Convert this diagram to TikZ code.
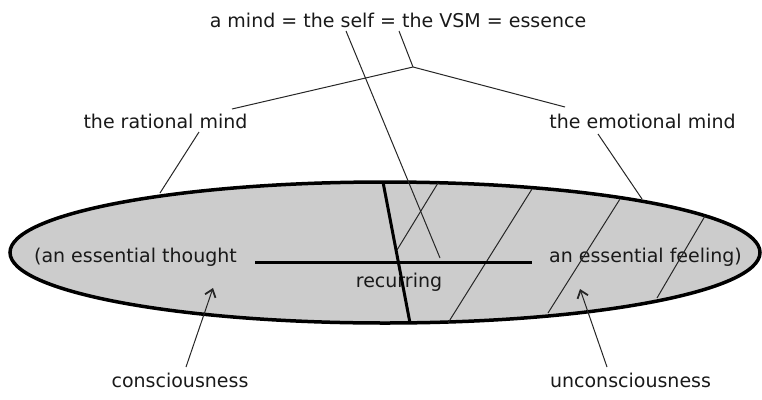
\documentclass[tikz,border=0pt]{standalone}
\usepackage{fontspec}
\setmainfont{DejaVu Sans}
\usetikzlibrary{arrows.meta}
\begin{document}
\begin{tikzpicture}[x=1pt,y=-1pt,
  lbl/.style={font=\fontsize{19}{22}\selectfont, inner sep=0pt, anchor=base, text=black!90},
  thinline/.style={line width=1pt, black!85},
  thickline/.style={line width=3pt, black},
  arr/.style={thinline, -{Straight Barb[length=7pt,width=11pt,line width=1.8pt]}}]
\useasboundingbox (0,0) rectangle (762,399);
% ellipse
\draw[line width=3.5pt, fill=gray!40] (385,252.5) ellipse [x radius=375, y radius=70.5];
% texts
\node[lbl] (top) at (398,27) {a mind = the self = the VSM = essence};
\node[lbl] (rational) at (165.5,128) {the rational mind};
\node[lbl] (emotional) at (642.5,128) {the emotional mind};
\node[lbl] (thought) at (135.5,262) {(an essential thought};
\node[lbl] (feeling) at (645.5,262) {an essential feeling)};
\node[lbl] (recurring) at (399,287) {recurring};
\node[lbl] (conscious) at (180,387) {consciousness};
\node[lbl] (unconscious) at (630.5,387) {unconsciousness};
% coordinates
\coordinate (self) at (346,31);
\coordinate (selfend) at (440,258);
\coordinate (vsm) at (399,31);
\coordinate (fork) at (413,67);
\coordinate (rtop) at (232,109);
\coordinate (etop) at (565,107);
\coordinate (rbot) at (199,132);
\coordinate (redge) at (160,193);
\coordinate (ebot) at (598,134);
\coordinate (eedge) at (642,199);
\coordinate (vt) at (383,182);
\coordinate (vb) at (410,323);
\coordinate (hl) at (255,262);
\coordinate (hr) at (532,262);
\coordinate (h1a) at (438,183); \coordinate (h1b) at (397,250);
\coordinate (h2a) at (532,189); \coordinate (h2b) at (448,323);
\coordinate (h3a) at (620,199); \coordinate (h3b) at (548,313);
\coordinate (h4a) at (705,216); \coordinate (h4b) at (657,298);
\coordinate (ca) at (186,367); \coordinate (ch) at (213,288);
\coordinate (ua) at (607,367); \coordinate (uh) at (580,289);
% hatching
\draw[thinline] (h1a) -- (h1b);
\draw[thinline] (h2a) -- (h2b);
\draw[thinline] (h3a) -- (h3b);
\draw[thinline] (h4a) -- (h4b);
% thick cross
\draw[thickline] (vt) -- (vb);
\draw[thickline] (hl) -- (hr);
% connectors
\draw[thinline] (self) -- (selfend);
\draw[thinline] (vsm) -- (fork);
\draw[thinline] (rtop) -- (fork) -- (etop);
\draw[thinline] (rbot) -- (redge);
\draw[thinline] (ebot) -- (eedge);
\draw[arr] (ca) -- (ch);
\draw[arr] (ua) -- (uh);
\end{tikzpicture}
\end{document}
